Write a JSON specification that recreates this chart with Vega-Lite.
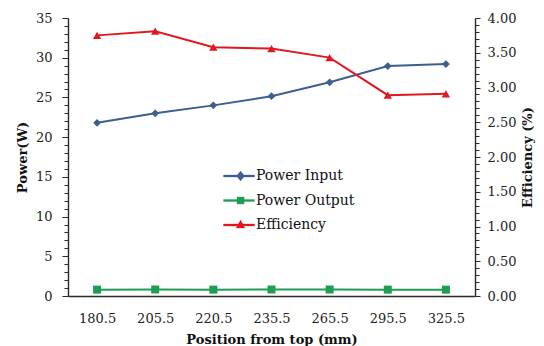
{
  "$schema": "https://vega.github.io/schema/vega-lite/v6.json",
  "width": 407,
  "height": 278,
  "autosize": {"type": "none"},
  "padding": {"left": 68, "top": 18, "right": 69, "bottom": 50},
  "background": "white",
  "config": {
    "font": "DejaVu Serif",
    "view": {"stroke": null},
    "axis": {
      "labelFont": "DejaVu Serif",
      "labelFontSize": 13,
      "labelColor": "#222222",
      "titleFont": "DejaVu Serif",
      "titleFontSize": 13,
      "titleFontWeight": "bold",
      "titleColor": "#111111",
      "domainColor": "#2a2a2a",
      "tickColor": "#2a2a2a",
      "domainWidth": 1.4,
      "tickWidth": 1,
      "grid": false
    },
    "legend": {
      "labelFont": "DejaVu Serif",
      "labelFontSize": 14,
      "labelColor": "#111111"
    }
  },
  "data": {
    "values": [
      {"pos": "180.5", "series": "Power Input", "value": 21.8},
      {"pos": "205.5", "series": "Power Input", "value": 23.0},
      {"pos": "220.5", "series": "Power Input", "value": 24.0},
      {"pos": "235.5", "series": "Power Input", "value": 25.15},
      {"pos": "265.5", "series": "Power Input", "value": 26.9},
      {"pos": "295.5", "series": "Power Input", "value": 28.95},
      {"pos": "325.5", "series": "Power Input", "value": 29.2},
      {"pos": "180.5", "series": "Power Output", "value": 0.8},
      {"pos": "205.5", "series": "Power Output", "value": 0.82},
      {"pos": "220.5", "series": "Power Output", "value": 0.8},
      {"pos": "235.5", "series": "Power Output", "value": 0.82},
      {"pos": "265.5", "series": "Power Output", "value": 0.82},
      {"pos": "295.5", "series": "Power Output", "value": 0.8},
      {"pos": "325.5", "series": "Power Output", "value": 0.8},
      {"pos": "180.5", "series": "Efficiency", "value": 3.75},
      {"pos": "205.5", "series": "Efficiency", "value": 3.81},
      {"pos": "220.5", "series": "Efficiency", "value": 3.58},
      {"pos": "235.5", "series": "Efficiency", "value": 3.56},
      {"pos": "265.5", "series": "Efficiency", "value": 3.43},
      {"pos": "295.5", "series": "Efficiency", "value": 2.89},
      {"pos": "325.5", "series": "Efficiency", "value": 2.91}
    ]
  },
  "encoding": {
    "x": {
      "field": "pos",
      "type": "ordinal",
      "sort": null,
      "scale": {"type": "point", "padding": 0.5},
      "axis": {
        "title": "Position from top (mm)",
        "labelAngle": 0,
        "ticks": false,
        "labelPadding": 16,
        "titlePadding": 8
      }
    },
    "color": {
      "field": "series",
      "type": "nominal",
      "sort": null,
      "scale": {
        "domain": ["Power Input", "Power Output", "Efficiency"],
        "range": ["#3d5f8e", "#1e9e52", "#e01820"]
      },
      "legend": {
        "title": null,
        "orient": "none",
        "legendX": 155,
        "legendY": 142,
        "padding": 0,
        "rowPadding": 1.5,
        "symbolSize": 256,
        "labelOffset": 1,
        "encode": {
          "symbols": {
            "update": {
              "shape": {"signal": "datum.value === 'Power Input' ? 'M-1,-0.065H1V0.065H-1Z M0.1,-0.32L0.36,0L0.1,0.32L-0.16,0Z' : datum.value === 'Power Output' ? 'M-1,-0.065H1V0.065H-1Z M-0.13,-0.23H0.33V0.23H-0.13Z' : 'M-1,-0.065H1V0.065H-1Z M0.1,-0.32L0.38,0.2H-0.18Z'"},
              "size": {"value": 961},
              "fill": {"signal": "scale('color', datum.value)"},
              "stroke": {"signal": "scale('color', datum.value)"},
              "strokeWidth": {"value": 0.3},
              "opacity": {"value": 1}
            }
          }
        }
      }
    }
  },
  "layer": [
    {
      "encoding": {
        "y": {
          "field": "value",
          "type": "quantitative",
          "scale": {"domain": [0, 35], "nice": false},
          "axis": {
            "title": "Power(W)",
            "orient": "left",
            "values": [0,1,2,3,4,5,6,7,8,9,10,11,12,13,14,15,16,17,18,19,20,21,22,23,24,25,26,27,28,29,30,31,32,33,34,35],
            "labelExpr": "datum.value % 5 === 0 ? datum.label : ''",
            "tickSize": {"condition": {"test": "datum.value % 5 === 0", "value": 6}, "value": 4},
            "labelPadding": 10,
            "titlePadding": 6
          }
        }
      },
      "layer": [
        {
          "transform": [{"filter": "datum.series === 'Power Input'"}],
          "mark": {"type": "line", "strokeWidth": 2, "point": {"shape": "diamond", "filled": true, "size": 60, "color": "#5a8cc6"}}
        },
        {
          "transform": [{"filter": "datum.series === 'Power Output'"}],
          "mark": {"type": "line", "strokeWidth": 2, "point": {"shape": "square", "filled": true, "size": 64}}
        }
      ]
    },
    {
      "transform": [{"filter": "datum.series === 'Efficiency'"}],
      "mark": {"type": "line", "strokeWidth": 2, "point": {"shape": "triangle-up", "filled": true, "size": 70}},
      "encoding": {
        "y": {
          "field": "value",
          "type": "quantitative",
          "scale": {"domain": [0, 4], "nice": false},
          "axis": {
            "title": "Efficiency (%)",
            "orient": "right",
            "titleAngle": -90,
            "titleBaseline": "top",
            "values": [0,0.1,0.2,0.3,0.4,0.5,0.6,0.7,0.8,0.9,1,1.1,1.2,1.3,1.4,1.5,1.6,1.7,1.8,1.9,2,2.1,2.2,2.3,2.4,2.5,2.6,2.7,2.8,2.9,3,3.1,3.2,3.3,3.4,3.5,3.6,3.7,3.8,3.9,4],
            "labelExpr": "abs(round(datum.value * 2) - datum.value * 2) < 0.001 ? format(datum.value, '.2f') : ''",
            "tickSize": {"condition": {"test": "abs(round(datum.value * 2) - datum.value * 2) < 0.001", "value": 5}, "value": 4},
            "labelPadding": 7,
            "titlePadding": 6
          }
        }
      }
    }
  ],
  "resolve": {"scale": {"y": "independent"}}
}
